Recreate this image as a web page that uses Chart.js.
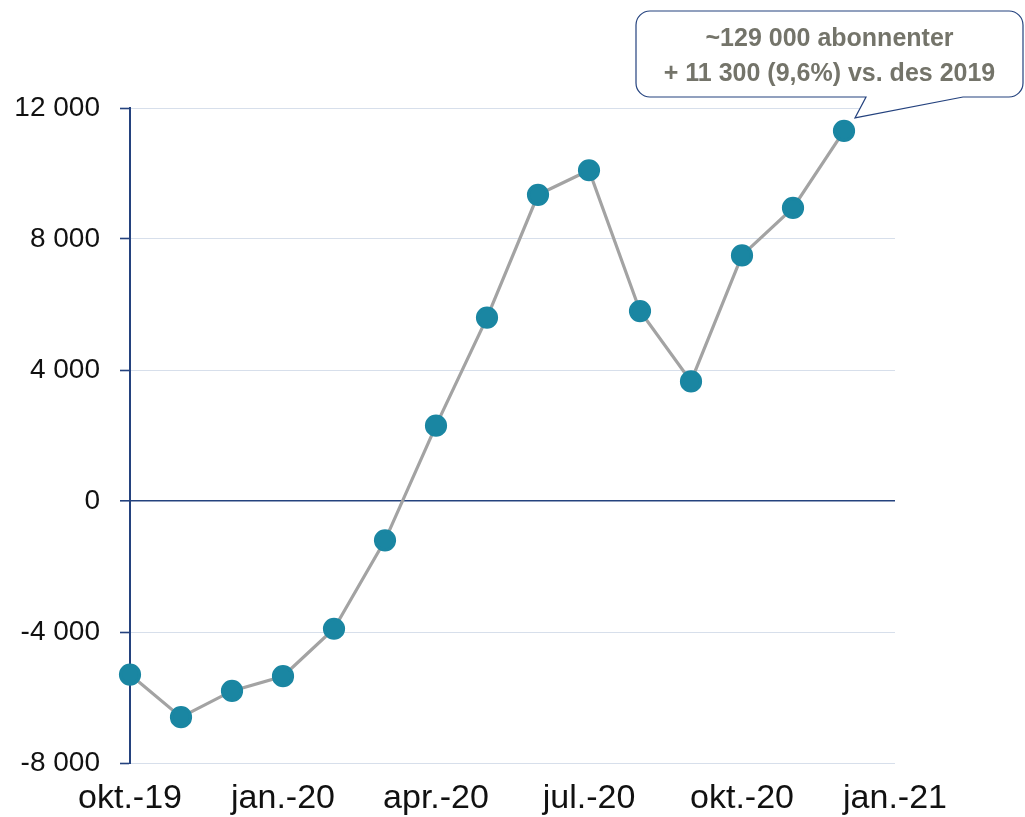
<!DOCTYPE html>
<html>
<head>
<meta charset="utf-8">
<script src="https://cdn.jsdelivr.net/npm/chart.js@4.4.1/dist/chart.umd.min.js"></script>
<style>
  html, body { margin: 0; padding: 0; background: #ffffff; }
  #wrap { width: 1025px; height: 817px; position: relative; }
</style>
</head>
<body>
<div id="wrap"><canvas id="c" width="1025" height="817"></canvas></div>
<script>
// Months on the x axis (16 slots, last one is the jan.-21 end tick)
const months = ["okt.-19","nov.-19","des.-19","jan.-20","feb.-20","mar.-20","apr.-20","mai.-20",
                "jun.-20","jul.-20","aug.-20","sep.-20","okt.-20","nov.-20","des.-20","jan.-21"];
// Tick labels shown (every third month)
const tickLabels = ["okt.-19","","","jan.-20","","","apr.-20","","","jul.-20","","","okt.-20","","","jan.-21"];
// Change in subscribers vs. same month previous year
const values = [-5300, -6600, -5800, -5350, -3900, -1200, 2300, 5600, 9350, 10100, 5800, 3650, 7500, 8950, 11300];
// Y axis ticks
const yTicks = [-8000, -4000, 0, 4000, 8000, 12000];
// Callout text
const calloutLines = ["~129 000 abonnenter", "+ 11 300 (9,6%) vs. des 2019"];

const NAVY = "#24427e";
const GRID = "#d7dfeb";

function fmt(v) {
  const s = Math.abs(v).toString().replace(/\B(?=(\d{3})+(?!\d))/g, " ");
  return (v < 0 ? "-" : "") + s;
}

const calloutPlugin = {
  id: "callout",
  afterDraw(chart) {
    const ctx = chart.ctx;
    const meta = chart.getDatasetMeta(0);
    const last = meta.data[meta.data.length - 1];
    const tipX = last.x + 11, tipY = last.y - 13;
    const L = 636, T = 11, R = 1023, B = 97, r = 14;
    const b1 = 866, b2 = 963;
    ctx.save();
    ctx.beginPath();
    ctx.moveTo(L + r, T);
    ctx.lineTo(R - r, T);
    ctx.arcTo(R, T, R, T + r, r);
    ctx.lineTo(R, B - r);
    ctx.arcTo(R, B, R - r, B, r);
    ctx.lineTo(b2, B);
    ctx.lineTo(tipX, tipY);
    ctx.lineTo(b1, B);
    ctx.lineTo(L + r, B);
    ctx.arcTo(L, B, L, B - r, r);
    ctx.lineTo(L, T + r);
    ctx.arcTo(L, T, L + r, T, r);
    ctx.closePath();
    ctx.fillStyle = "#ffffff";
    ctx.fill();
    ctx.lineWidth = 1.2;
    ctx.strokeStyle = NAVY;
    ctx.stroke();
    ctx.fillStyle = "#74746a";
    ctx.font = "bold 25px 'Liberation Sans', Arial, sans-serif";
    ctx.textAlign = "center";
    ctx.textBaseline = "middle";
    const cx = (L + R) / 2;
    ctx.fillText(calloutLines[0], cx, 39);
    ctx.fillText(calloutLines[1], cx, 74);
    ctx.restore();
  }
};

new Chart(document.getElementById("c"), {
  type: "line",
  data: {
    labels: months,
    datasets: [{
      data: values,
      borderColor: "#a3a3a3",
      borderWidth: 3.2,
      pointBackgroundColor: "#1a86a2",
      pointBorderColor: "#1a86a2",
      pointRadius: 9.5,
      pointHoverRadius: 9.5,
      tension: 0,
      fill: false
    }]
  },
  options: {
    responsive: false,
    animation: false,
    events: [],
    layout: { padding: { top: 108, right: 130, left: 0, bottom: 0 } },
    plugins: { legend: { display: false }, tooltip: { enabled: false } },
    scales: {
      x: {
        type: "category",
        offset: false,
        grid: { display: false, drawTicks: false },
        border: { display: false },
        ticks: {
          autoSkip: false,
          maxRotation: 0,
          padding: 15,
          color: "#111111",
          font: { family: "'Liberation Sans', Arial, sans-serif", size: 34 },
          callback: (v, i) => tickLabels[i]
        },
        afterFit: (s) => { s.height = 54; }
      },
      y: {
        min: yTicks[0],
        max: yTicks[yTicks.length - 1],
        afterBuildTicks: (s) => { s.ticks = yTicks.map(v => ({ value: v })); },
        grid: {
          color: (c) => (c.tick && c.tick.value === 0) ? NAVY : GRID,
          lineWidth: (c) => (c.tick && c.tick.value === 0) ? 1.6 : 1,
          tickColor: NAVY,
          tickLength: 10,
          tickWidth: 1.6
        },
        border: { display: true, color: NAVY, width: 2 },
        ticks: {
          padding: 20,
          color: "#111111",
          font: { family: "'Liberation Sans', Arial, sans-serif", size: 28 },
          callback: (v) => fmt(v)
        },
        afterFit: (s) => { s.width = 130; }
      }
    }
  },
  plugins: [calloutPlugin]
});
</script>
</body>
</html>
